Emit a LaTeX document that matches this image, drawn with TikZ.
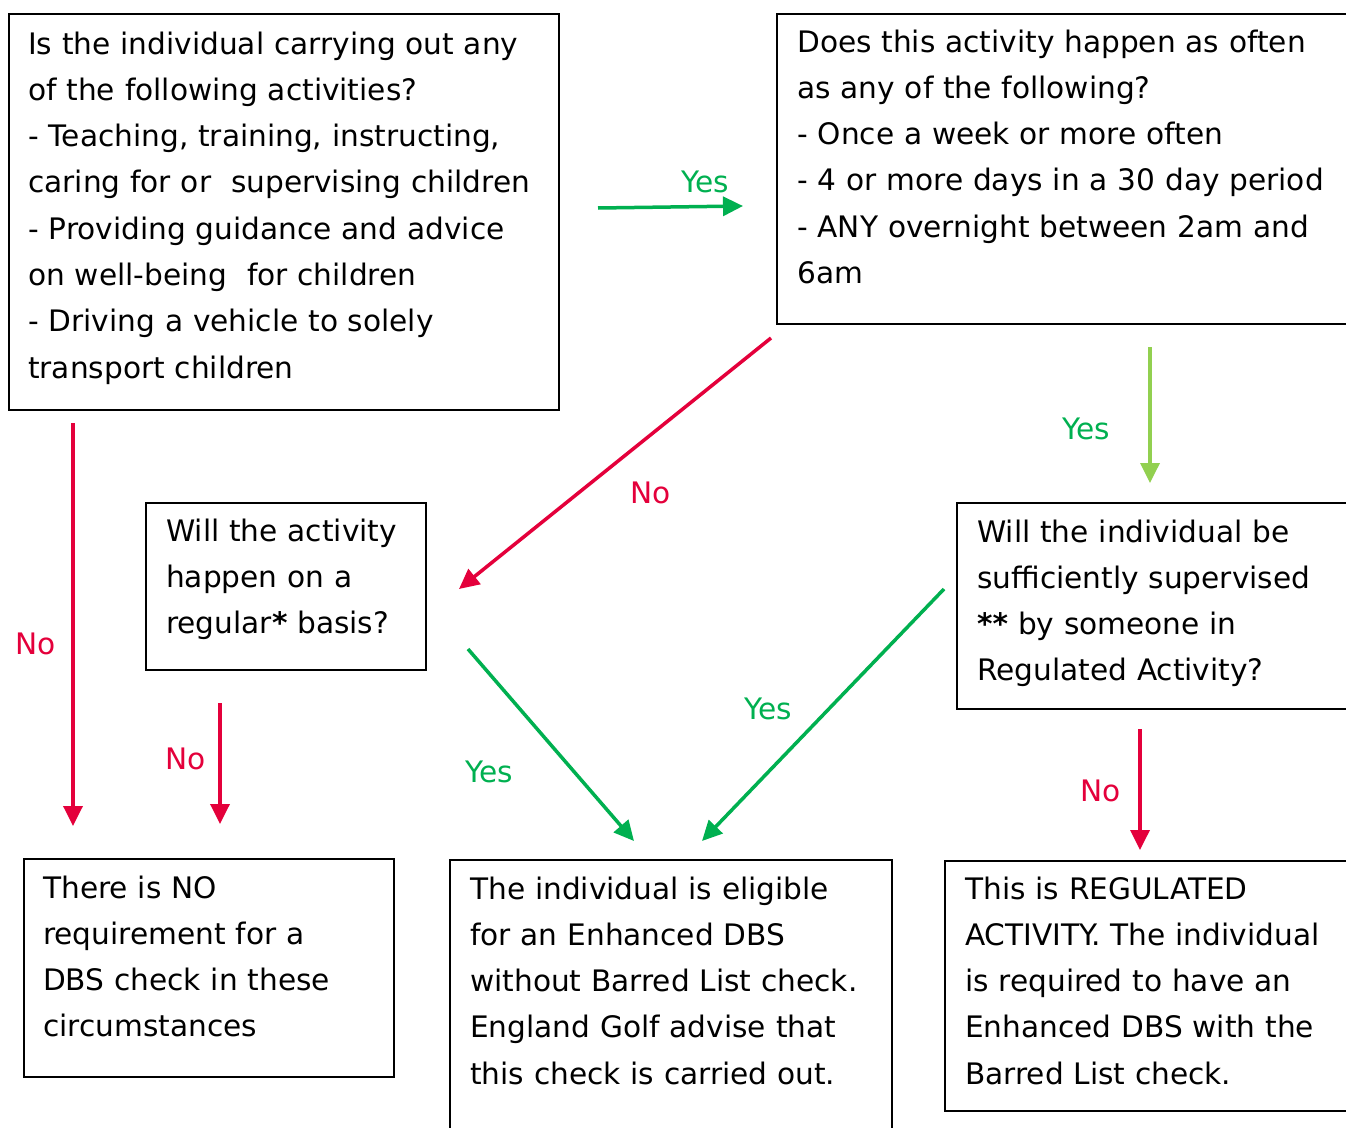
\documentclass[tikz,border=0pt]{standalone}
\usepackage{fontspec}
\setmainfont{DejaVu Sans}
\usetikzlibrary{arrows.meta}
\definecolor{okgreen}{RGB}{0,176,80}
\definecolor{lightgreen}{RGB}{146,208,80}
\definecolor{nored}{RGB}{228,0,59}
\tikzset{
  box/.style={draw=black, line width=1.8pt, anchor=north west, inner sep=0pt},
  txt/.style={anchor=base west, inner sep=0pt, text width=600pt, align=left,
    font=\fontsize{29.6}{46.3}\selectfont},
  lab/.style={anchor=base west, inner sep=0pt, font=\fontsize{29.6}{35}\selectfont},
  yeslab/.style={lab, text=okgreen},
  nolab/.style={lab, text=nored},
  arr/.style={line width=3.5pt, -{Triangle[length=20pt,width=19pt]}},
  yesarr/.style={arr, draw=okgreen, fill=okgreen},
  yesarrl/.style={arr, draw=lightgreen, fill=lightgreen},
  noarr/.style={arr, draw=nored, fill=nored}
}
\begin{document}
\begin{tikzpicture}[x=1pt,y=-1pt]
\clip (0,0) rectangle (1346,1127);
\fill[white] (0,0) rectangle (1346,1127);

% boxes
\node[box, minimum width=550pt, minimum height=396pt] (b1) at (8,13) {};
\node[box, minimum width=590pt, minimum height=310pt] (b2) at (776,13) {};
\node[box, minimum width=280pt, minimum height=167pt] (b3) at (145,502) {};
\node[box, minimum width=410pt, minimum height=206pt] (b4) at (956,502) {};
\node[box, minimum width=370pt, minimum height=218pt] (b5) at (23,858) {};
\node[box, minimum width=442pt, minimum height=300pt] (b6) at (449,859) {};
\node[box, minimum width=420pt, minimum height=250pt] (b7) at (944,860) {};

% texts
\node[txt] (t1) at (28,54) {Is the individual carrying out any\\
of the following activities?\\
- Teaching, training, instructing,\\
caring for or~ supervising children\\
- Providing guidance and advice\\
on well-being~ for children\\
- Driving a vehicle to solely\\
transport children};

\node[txt] (t2) at (797,52) {Does this activity happen as often\\
as any of the following?\\
- Once a week or more often\\
- 4 or more days in a 30 day period\\
- ANY overnight between 2am and\\
6am};

\node[txt] (t3) at (166,541) {Will the activity\\
happen on a\\
regular\textbf{*} basis?};

\node[txt] (t4) at (977,542) {Will the individual be\\
sufficiently supervised\\
\textbf{**} by someone in\\
Regulated Activity?};

\node[txt] (t5) at (43,898) {There is NO\\
requirement for a\\
DBS check in these\\
circumstances};

\node[txt] (t6) at (470,899) {The individual is eligible\\
for an Enhanced DBS\\
without Barred List check.\\
England Golf advise that\\
this check is carried out.};

\node[txt] (t7) at (965,899) {This is REGULATED\\
ACTIVITY. The individual\\
is required to have an\\
Enhanced DBS with the\\
Barred List check.};

% arrow end points
\coordinate (a1s) at (598,208); \coordinate (a1e) at (743,206);
\coordinate (a2s) at (1150,347); \coordinate (a2e) at (1150,483);
\coordinate (a3s) at (771,338); \coordinate (a3e) at (459,589);
\coordinate (a4s) at (73,423); \coordinate (a4e) at (73,826);
\coordinate (a5s) at (220,703); \coordinate (a5e) at (220,824);
\coordinate (a6s) at (468,649); \coordinate (a6e) at (634,841);
\coordinate (a7s) at (944,589); \coordinate (a7e) at (702,841);
\coordinate (a8s) at (1140,729); \coordinate (a8e) at (1140,850);

\draw[yesarr] (a1s) -- (a1e);
\draw[yesarrl] (a2s) -- (a2e);
\draw[noarr] (a3s) -- (a3e);
\draw[noarr] (a4s) -- (a4e);
\draw[noarr] (a5s) -- (a5e);
\draw[yesarr] (a6s) -- (a6e);
\draw[yesarr] (a7s) -- (a7e);
\draw[noarr] (a8s) -- (a8e);

% labels
\node[yeslab] (l1) at (681,192) {Yes};
\node[yeslab] (l2) at (1062,439) {Yes};
\node[nolab] (l3) at (630,503) {No};
\node[nolab] (l4) at (15,654) {No};
\node[nolab] (l5) at (165,769) {No};
\node[yeslab] (l6) at (465,782) {Yes};
\node[yeslab] (l7) at (744,719) {Yes};
\node[nolab] (l8) at (1080,801) {No};
\end{tikzpicture}
\end{document}
